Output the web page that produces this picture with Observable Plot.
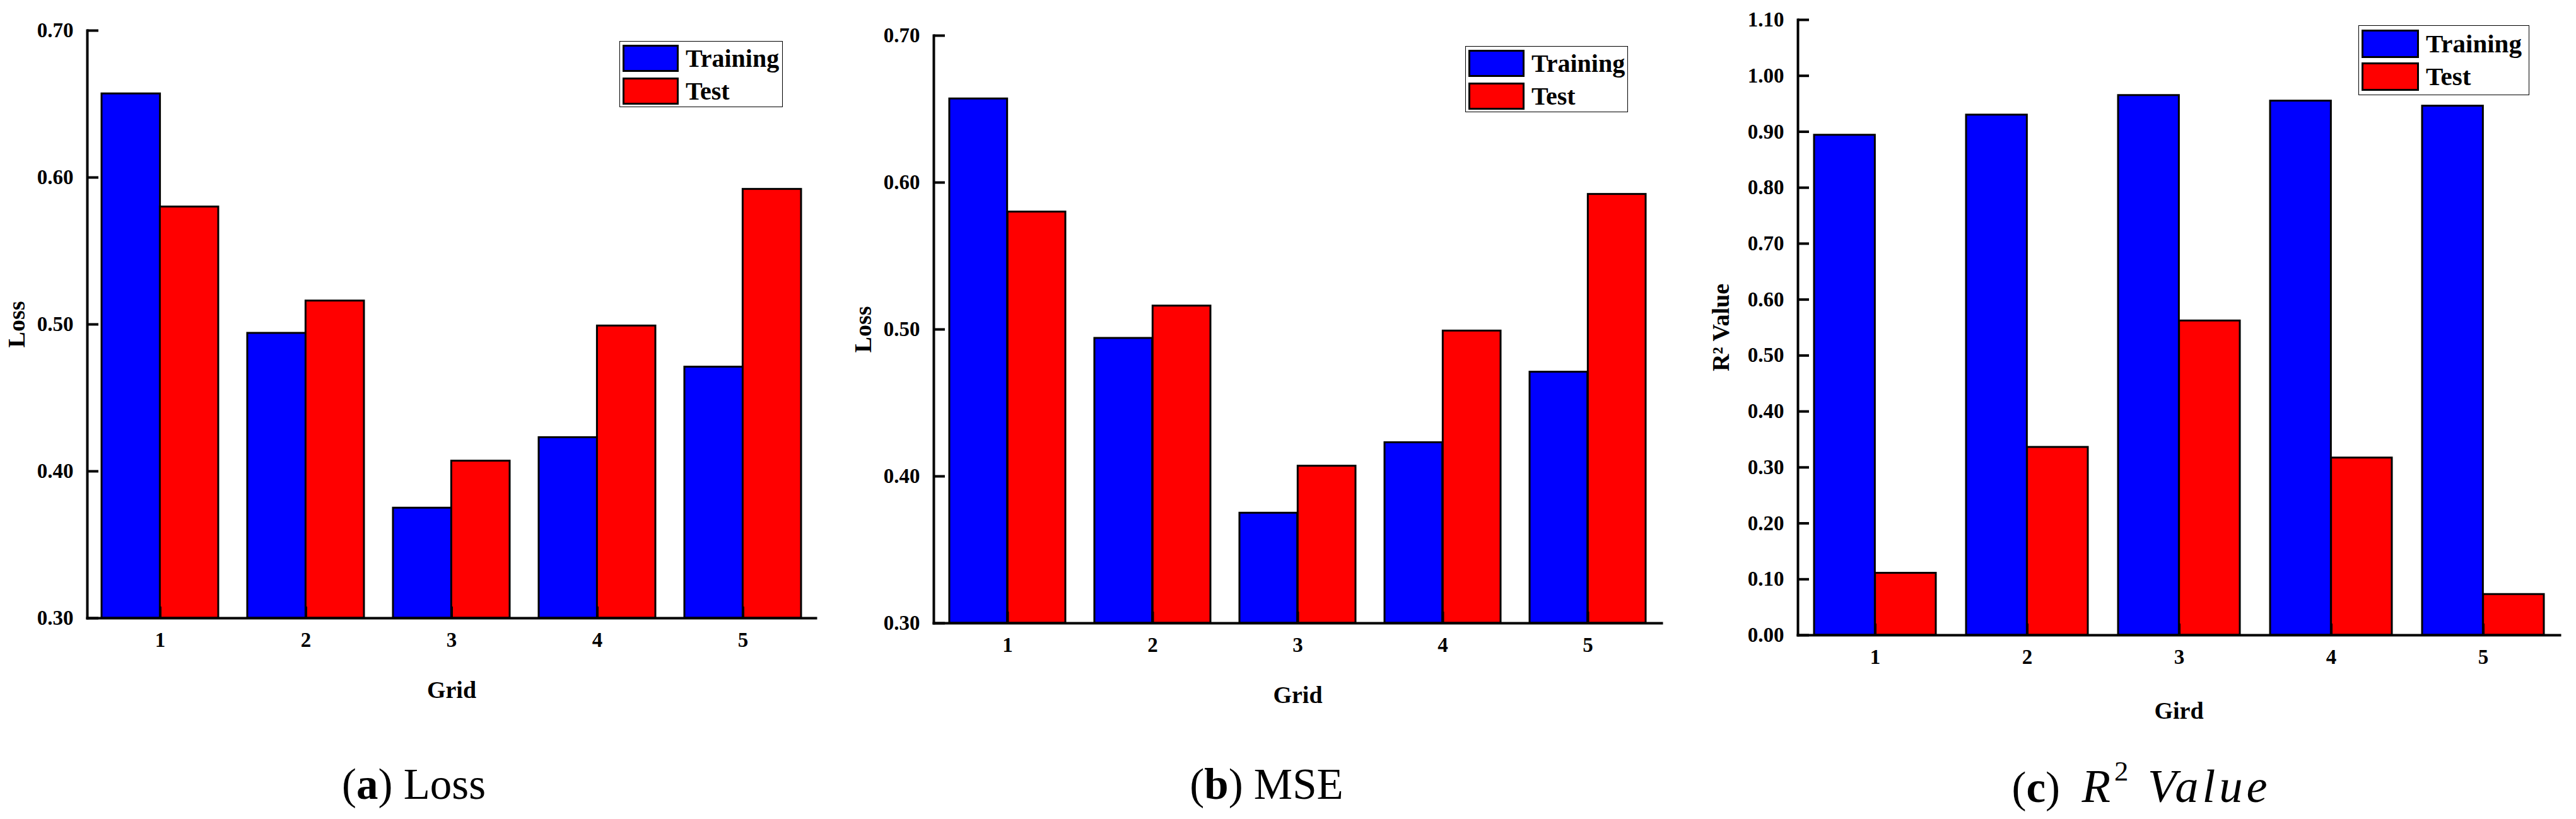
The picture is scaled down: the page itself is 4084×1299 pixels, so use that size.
<!DOCTYPE html>
<html>
<head>
<meta charset="utf-8">
<script src="https://cdn.jsdelivr.net/npm/d3@7"></script>
<script src="https://cdn.jsdelivr.net/npm/@observablehq/plot@0.6"></script>
<style>
  body { margin: 0; background: #fff; }
  #page { position: relative; width: 4084px; height: 1299px; font-family: "Liberation Serif", "Times New Roman", serif; color: #000; }
  .panel { position: absolute; top: 0; }
  .legend { position: absolute; border: 1.5px solid #000; background: #fff; box-sizing: border-box; }
  .legend .row { position: absolute; left: 4px; display: flex; align-items: center; }
  .legend .sw { border: 3px solid #000; box-sizing: border-box; }
  .legend .lab { font-weight: bold; margin-left: 11px; line-height: 1; }
  .caption { position: absolute; top: 1210px; font-size: 69px; line-height: 1; white-space: nowrap; transform: translateX(-50%); }
  .caption i { font-size: 1.08em; letter-spacing: 6px; }
  .caption sup { font-size: 0.6em; vertical-align: 0.75em; line-height: 0; font-style: normal; }
</style>
</head>
<body>
<div id="page"></div>
<script>
  // categorías y series
  const grids = ['1', '2', '3', '4', '5']
  const seriesNames = ['Training', 'Test']
  const seriesColors = ['#0000ff', '#ff0000']

  // valores
  const lossTrain = [0.657, 0.494, 0.375, 0.423, 0.471]
  const lossTest = [0.580, 0.516, 0.407, 0.499, 0.592]
  const mseTrain = [0.657, 0.494, 0.375, 0.423, 0.471]
  const mseTest = [0.580, 0.516, 0.407, 0.499, 0.592]
  const r2Train = [0.894, 0.930, 0.965, 0.955, 0.946]
  const r2Test = [0.111, 0.336, 0.562, 0.317, 0.073]

  // ticks del eje y
  const lossTicks = [0.30, 0.40, 0.50, 0.60, 0.70]
  const r2Ticks = [0.00, 0.10, 0.20, 0.30, 0.40, 0.50, 0.60, 0.70, 0.80, 0.90, 1.00, 1.10]

  const panels = [
    {
      train: lossTrain, test: lossTest, ticks: lossTicks, domain: [0.30, 0.70],
      yLabel: 'Loss', xLabel: 'Grid',
      left: 0, width: 1333, marginLeft: 138, marginRight: 40, marginTop: 48, marginBottom: 180,
      yLabelOffset: 126, xLabelOffset: 126,
      legend: { left: 982, top: 65, w: 259, h: 105, sw: 89, sh: 43, rows: [5, 57], font: 40 },
      caption: { x: 656, html: '(<b>a</b>) Loss' },
    },
    {
      train: mseTrain, test: mseTest, ticks: lossTicks, domain: [0.30, 0.70],
      yLabel: 'Loss', xLabel: 'Grid',
      left: 1340, width: 1334, marginLeft: 140, marginRight: 40, marginTop: 56, marginBottom: 172,
      yLabelOffset: 126, xLabelOffset: 126,
      legend: { left: 2323, top: 73, w: 258, h: 105, sw: 89, sh: 43, rows: [5, 57], font: 40 },
      caption: { x: 2008, html: '(<b>b</b>) MSE' },
    },
    {
      train: r2Train, test: r2Test, ticks: r2Ticks, domain: [0, 1.10],
      yLabel: 'R² Value', xLabel: 'Gird',
      left: 2690, width: 1388, marginLeft: 160, marginRight: 20, marginTop: 31, marginBottom: 153,
      yLabelOffset: 136, xLabelOffset: 132,
      legend: { left: 3739, top: 40, w: 271, h: 111, sw: 91, sh: 45, rows: [6, 58], font: 41 },
      caption: { x: 3395, html: '(<b>c</b>)&nbsp;&nbsp;<i>R<sup>2</sup> Value</i>' },
    },
  ]

  const page = d3.select('#page')
  const height = 1160

  panels.forEach(p => {
    const rows = grids.map((g, i) => ({ grid: g, train: p.train[i], test: p.test[i] }))
    const innerW = p.width - p.marginLeft - p.marginRight
    const innerH = height - p.marginTop - p.marginBottom
    // ancho de cada barra: la mitad de la banda
    const step = innerW / (grids.length - 0.2 + 2 * 0.1)
    const half = (step * 0.8) / 2
    const base = p.domain[0]

    const chart = Plot.plot({
      width: p.width,
      height,
      marginLeft: p.marginLeft,
      marginRight: p.marginRight,
      marginTop: p.marginTop,
      marginBottom: p.marginBottom,
      style: {
        fontFamily: '"Liberation Serif", "Times New Roman", serif',
        fontWeight: 'bold',
        fontSize: '33px',
        color: '#000',
        background: 'transparent',
        maxWidth: 'none',
        overflow: 'visible',
      },
      x: { domain: grids, paddingInner: 0.2, paddingOuter: 0.1 },
      y: { domain: p.domain },
      marks: [
        Plot.barY(rows, { x: 'grid', y1: base, y2: 'train', fill: seriesColors[0], stroke: '#000', strokeWidth: 3, insetRight: half }),
        Plot.barY(rows, { x: 'grid', y1: base, y2: 'test', fill: seriesColors[1], stroke: '#000', strokeWidth: 3, insetLeft: half }),
        // ticks hacia dentro en ambos ejes
        Plot.tickY(p.ticks, { stroke: '#000', strokeWidth: 4, insetRight: innerW - 18 }),
        Plot.tickX(grids, { stroke: '#000', strokeWidth: 4, insetTop: innerH - 18 }),
        Plot.frame({ anchor: 'left', stroke: '#000', strokeWidth: 4 }),
        Plot.frame({ anchor: 'bottom', stroke: '#000', strokeWidth: 4 }),
        Plot.axisY(p.ticks, { tickSize: 0, tickPadding: 22, tickFormat: d3.format('.2f'), label: null, fontSize: 33, fontWeight: 'bold' }),
        Plot.axisY([], { tickSize: 0, label: p.yLabel, labelArrow: 'none', labelAnchor: 'center', labelOffset: p.yLabelOffset, fontSize: 38, fontWeight: 'bold' }),
        Plot.axisX({ tickSize: 0, tickPadding: 22, label: null, fontSize: 33, fontWeight: 'bold' }),
        Plot.axisX([], { tickSize: 0, label: p.xLabel, labelArrow: 'none', labelAnchor: 'center', labelOffset: p.xLabelOffset, fontSize: 38, fontWeight: 'bold' }),
      ],
    })

    page.append('div')
      .attr('class', 'panel')
      .style('left', p.left + 'px')
      .append(() => chart)

    // leyenda dentro del área del gráfico
    const lg = page.append('div')
      .attr('class', 'legend')
      .style('left', p.legend.left + 'px')
      .style('top', p.legend.top + 'px')
      .style('width', p.legend.w + 'px')
      .style('height', p.legend.h + 'px')
    seriesNames.forEach((name, i) => {
      const row = lg.append('div').attr('class', 'row').style('top', p.legend.rows[i] + 'px')
      row.append('div').attr('class', 'sw')
        .style('width', p.legend.sw + 'px')
        .style('height', p.legend.sh + 'px')
        .style('background', seriesColors[i])
      row.append('div').attr('class', 'lab').style('font-size', p.legend.font + 'px').text(name)
    })

    page.append('div')
      .attr('class', 'caption')
      .style('left', p.caption.x + 'px')
      .html(p.caption.html)
  })
</script>
</body>
</html>
